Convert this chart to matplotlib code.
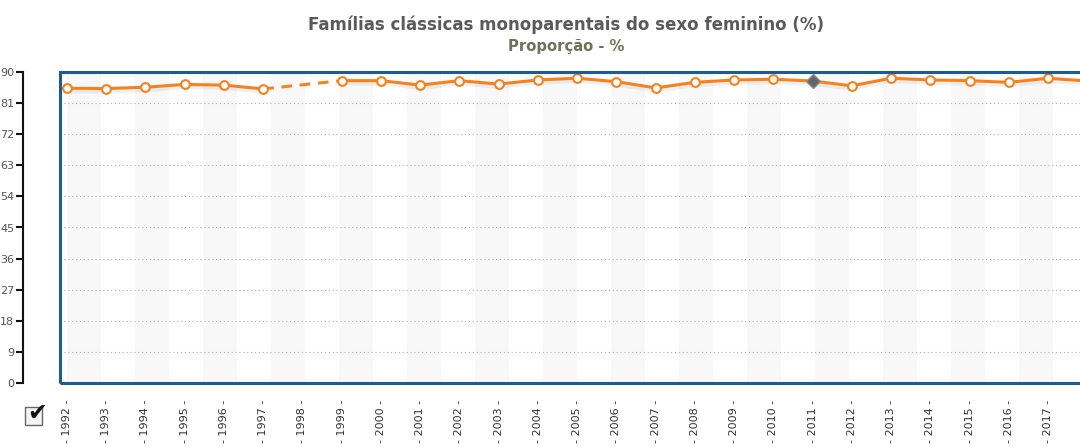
import numpy as np
import matplotlib
matplotlib.use('Agg')
from matplotlib import pyplot as plt
from matplotlib.patches import Rectangle

years = list(range(1992, 2019))
values = [85.3, 85.2, 85.6, 86.4, 86.2, 85.1, None, 87.5, 87.5, 86.2,
          87.5, 86.5, 87.7, 88.2, 87.2, 85.4, 87.0, 87.7, 87.9, 87.4,
          86.0, 88.2, 87.7, 87.5, 87.0, 88.2, 87.4]
highlight_year = 2011
yticks = list(range(0, 91, 9))
# the last year runs off the right edge of the picture, no label there
label_years = years[:-1]

title = 'Famílias clássicas monoparentais do sexo feminino (%)'
subtitle = 'Proporção - %'

orange = '#f5821f'
blue = '#1f5b93'

fig = plt.figure(figsize=(10.8, 4.48), dpi=100)
ax = fig.add_axes([60 / 1080, 65 / 448, 1060 / 1080, 311 / 448])

x0 = 1992 - 7 / 39.24
x1 = 1992 + (1120 - 67) / 39.24
ax.set_xlim(x0, x1)
ax.set_ylim(0, 90)

# alternating background bands
step = 26 / 30
for b in np.arange(1992, x1, 2 * step):
    ax.axvspan(b, b + step, color='#f8f8f8', zorder=0, lw=0)

# dotted grid
for t in yticks[1:-1]:
    ax.axhline(t, color='#b0b0b0', lw=0.8, ls=(0, (1, 2.5)), zorder=1)

yrs = np.array(years, dtype=float)
vals = np.array([np.nan if v is None else v for v in values])

# soft shadow
ax.plot(yrs, vals - 0.7, color='#000000', alpha=0.06, lw=3.5, zorder=2)

ax.plot(yrs, vals, color=orange, lw=2.2, zorder=3, solid_capstyle='round')

# dashed across missing years
ok = ~np.isnan(vals)
for i in range(len(vals) - 1):
    if ok[i] and not ok[i + 1]:
        j = i + 1
        while j < len(vals) and not ok[j]:
            j += 1
        if j < len(vals):
            ax.plot([yrs[i], yrs[j]], [vals[i], vals[j]], color=orange, lw=2.2,
                    ls=(0, (3.5, 2.5)), zorder=3)

mask = ok & (yrs != highlight_year)
ax.plot(yrs[mask], vals[mask], ls='none', marker='o', ms=6.3, mfc='white',
        mec=orange, mew=1.5, zorder=4)
hi = yrs == highlight_year
ax.plot(yrs[hi], vals[hi], ls='none', marker='D', ms=7.5, mfc='#666666',
        mec='#8a8a8a', mew=1, zorder=5)

# frame
for s in ax.spines.values():
    s.set_visible(False)
ax.add_patch(Rectangle((0, 0), 1, 1, transform=ax.transAxes, fill=False,
                       ec=blue, lw=2.2, zorder=6, clip_on=False))

# y axis drawn to the left of the frame
ax.spines['left'].set_visible(True)
ax.spines['left'].set_position(('outward', 27))
ax.spines['left'].set_color('#111111')
ax.spines['left'].set_linewidth(1.5)
ax.set_yticks(yticks)
ax.set_yticklabels([str(t) for t in yticks], fontsize=8, color='#555555')
ax.tick_params(axis='y', length=5, width=1.5, color='#111111', pad=1)

ax.set_xticks(label_years)
ax.set_xticklabels(['- %d -' % y for y in label_years], rotation=90, fontsize=8,
                   color='#333333', family='DejaVu Sans')
ax.tick_params(axis='x', length=0, pad=12)

fig.text(566 / 1080, 1 - 25 / 448, title, ha='center', va='center',
         fontsize=12, fontweight='bold', color='#5a5a5a')
fig.text(566 / 1080, 1 - 47 / 448, subtitle, ha='center', va='center',
         fontsize=10.6, fontweight='bold', color='#6e7257')

# checkbox icon
fig.patches.append(Rectangle((25 / 1080, 1 - 425 / 448), 17 / 1080, 18 / 448,
                             transform=fig.transFigure, fill=True, fc='#f4f4f4',
                             ec='#666666', lw=1))
fig.text(37 / 1080, 1 - 413 / 448, '✔', ha='center', va='center',
         fontsize=17, color='#111111')

fig.savefig('out.png', dpi=100)
